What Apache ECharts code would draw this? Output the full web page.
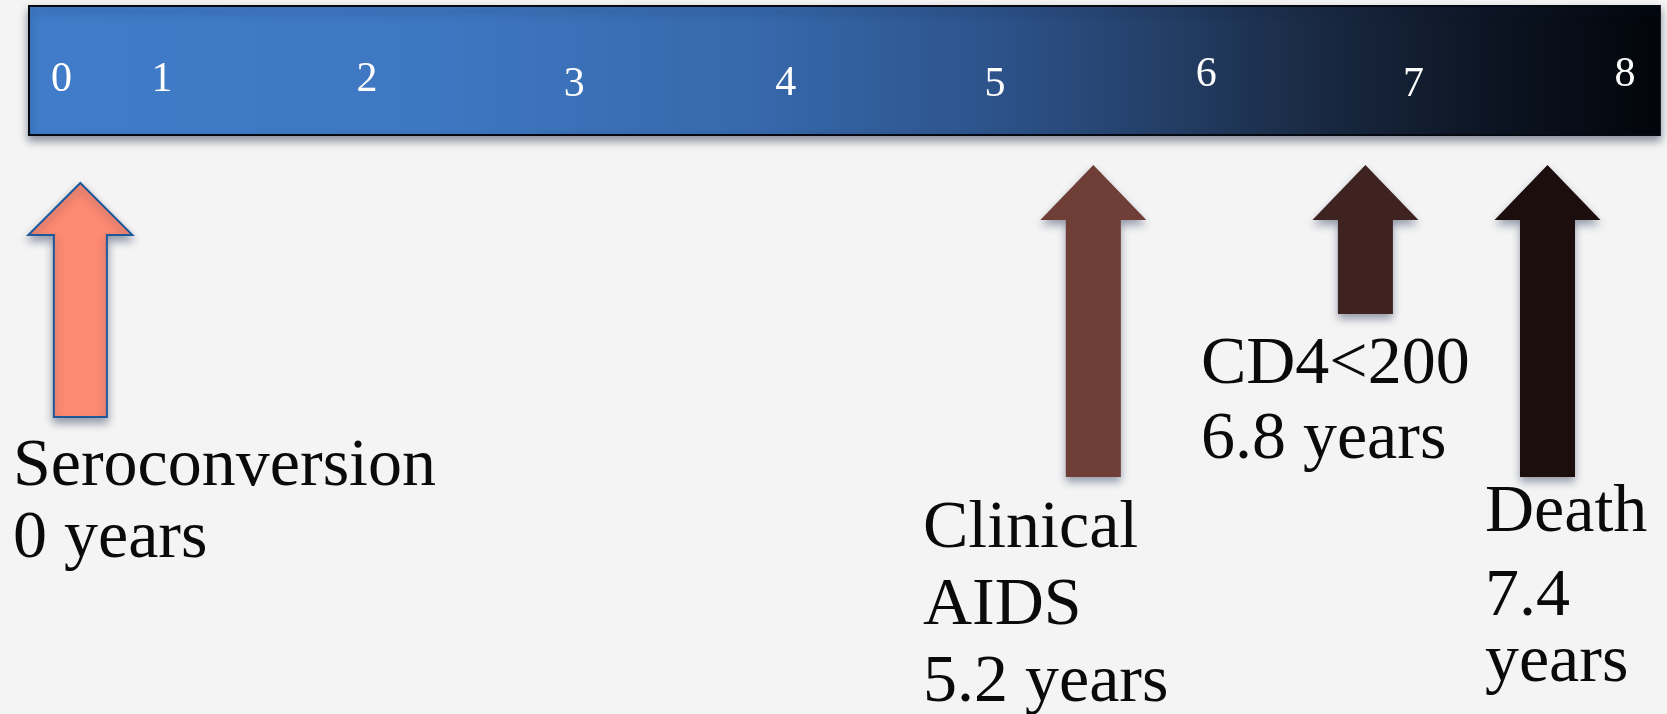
<!DOCTYPE html>
<html>
<head>
<meta charset="utf-8">
<script src="https://cdn.jsdelivr.net/npm/echarts@6/dist/echarts.min.js"></script>
<style>
html,body{margin:0;padding:0;background:#f4f4f4;}
#chart{width:1667px;height:714px;}
</style>
</head>
<body>
<div id="chart"></div>
<script>
// ---------------- data ----------------
const tickLabels = ['0', '1', '2', '3', '4', '5', '6', '7', '8'];
// where each tick label sits along the time axis (years)
const tickYears = [0.52, 1.0, 1.98, 2.97, 3.98, 4.98, 5.99, 6.98, 7.99];
const eventNames = ['Seroconversion', 'Clinical AIDS', 'CD4<200', 'Death'];
const eventYears = ['0', '5.2', '6.8', '7.4'];
// where each arrow points on the time axis (years, as drawn)
const arrowYears = [0.61, 5.45, 6.75, 7.62];
// label text lines of each event
const eventLabelLines = [
  ['Seroconversion', '0 years'],
  ['Clinical', 'AIDS', '5.2 years'],
  ['CD4<200', '6.8 years'],
  ['Death', '7.4', 'years']
];
// where each label block starts along the time axis (years)
const labelYears = [0.288, 4.636, 5.964, 7.321];

// ---------------- layout / style (not data) ----------------
const X_MIN = 0.226, X_MAX = 8.191;          // visible span of the time scale
const H = 714;
const bar = {start: 0.3646, end: 8.157, top: 6, bottom: 135};
const tickRows = [80, 80, 80, 85, 84, 85, 75, 85, 75];
const arrowStyle = [
  {top: 183, headBase: 235, bottom: 417, headHalf: 52, shaftHalf: 26.5, fill: '#fd8a72', stroke: '#1f5898', lw: 2},
  {top: 165, headBase: 220, bottom: 477, headHalf: 53, shaftHalf: 27.5, fill: '#6f3e36', stroke: null, lw: 0},
  {top: 165, headBase: 220, bottom: 314, headHalf: 53, shaftHalf: 27.5, fill: '#3f2320', stroke: null, lw: 0},
  {top: 165, headBase: 220, bottom: 477, headHalf: 53, shaftHalf: 27.5, fill: '#1b0e0c', stroke: null, lw: 0}
];
const labelRows = [
  [467, 539],
  [529, 606, 683],
  [365, 440],
  [513, 597, 663]
];
const FONT = '"Liberation Serif", "DejaVu Serif", serif';

const chart = echarts.init(document.getElementById('chart'), null, {renderer: 'canvas'});

const option = {
  backgroundColor: '#f4f4f4',
  animation: false,
  grid: {left: 0, right: 0, top: 0, bottom: 0},
  xAxis: {type: 'value', min: X_MIN, max: X_MAX, show: false},
  yAxis: {type: 'value', min: 0, max: H, inverse: true, show: false},
  series: [
    {
      name: 'timeline',
      type: 'custom',
      silent: true,
      data: [[bar.start, bar.end]],
      renderItem: function (params, api) {
        const p0 = api.coord([api.value(0), bar.top]);
        const p1 = api.coord([api.value(1), bar.bottom]);
        return {
          type: 'rect',
          shape: {x: p0[0], y: p0[1], width: p1[0] - p0[0], height: p1[1] - p0[1]},
          style: {
            fill: new echarts.graphic.LinearGradient(0, 0, 1, 0, [
              {offset: 0, color: '#407cc9'},
              {offset: 0.25, color: '#3e77c1'},
              {offset: 0.45, color: '#3668ab'},
              {offset: 0.6, color: '#2c5188'},
              {offset: 0.7, color: '#233e65'},
              {offset: 0.8, color: '#18273f'},
              {offset: 0.9, color: '#0c1422'},
              {offset: 1, color: '#02050a'}
            ]),
            stroke: '#050a12',
            lineWidth: 2,
            shadowBlur: 8,
            shadowOffsetY: 5,
            shadowColor: 'rgba(20,30,60,0.45)'
          }
        };
      }
    },
    {
      name: 'ticks',
      type: 'custom',
      silent: true,
      data: tickLabels.map((t, i) => [tickYears[i], tickRows[i], t]),
      renderItem: function (params, api) {
        const p = api.coord([api.value(0), api.value(1)]);
        return {
          type: 'text',
          x: p[0], y: p[1],
          style: {
            text: tickLabels[params.dataIndex],
            fill: '#ffffff',
            fontSize: 42,
            fontFamily: FONT,
            align: 'center',
            verticalAlign: 'middle'
          }
        };
      }
    },
    {
      name: 'arrows',
      type: 'custom',
      silent: true,
      data: arrowYears.map((x, i) => [x, i]),
      renderItem: function (params, api) {
        const s = arrowStyle[params.dataIndex];
        const c = api.coord([api.value(0), s.top]);
        const cx = c[0];
        const yTop = c[1];
        const yHead = api.coord([api.value(0), s.headBase])[1];
        const yBot = api.coord([api.value(0), s.bottom])[1];
        const pts = [
          [cx, yTop],
          [cx + s.headHalf, yHead],
          [cx + s.shaftHalf, yHead],
          [cx + s.shaftHalf, yBot],
          [cx - s.shaftHalf, yBot],
          [cx - s.shaftHalf, yHead],
          [cx - s.headHalf, yHead]
        ];
        return {
          type: 'polygon',
          shape: {points: pts},
          style: {
            fill: s.fill,
            stroke: s.stroke,
            lineWidth: s.lw,
            lineJoin: 'miter',
            shadowBlur: 9,
            shadowOffsetY: 5,
            shadowColor: 'rgba(30,45,80,0.45)'
          }
        };
      }
    },
    {
      name: 'labels',
      type: 'custom',
      silent: true,
      data: eventNames.map((n, i) => [labelYears[i], i]),
      renderItem: function (params, api) {
        const i = params.dataIndex;
        const lines = eventLabelLines[i];
        const children = lines.map((txt, j) => {
          const p = api.coord([api.value(0), labelRows[i][j]]);
          return {
            type: 'text',
            x: p[0], y: p[1],
            style: {
              text: txt,
              fill: '#0a0a0a',
              fontSize: 68,
              fontFamily: FONT,
              align: 'left',
              verticalAlign: 'middle'
            }
          };
        });
        return {type: 'group', children: children};
      }
    }
  ]
};
chart.setOption(option);
</script>
</body>
</html>
